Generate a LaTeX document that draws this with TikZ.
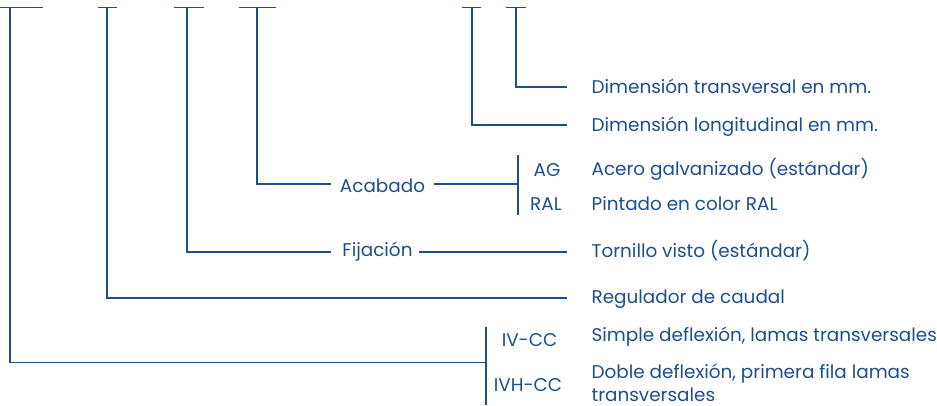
\documentclass[tikz,border=0pt]{standalone}
\usepackage{fontspec}
\setmainfont{Poppins}
\usetikzlibrary{positioning}
\definecolor{navy}{HTML}{1C4F8C}

\begin{document}
\begin{tikzpicture}[x=1pt,y=-1pt,line width=1.2pt,navy,
    font=\fontsize{18.4}{23}\selectfont,
    desc/.style={anchor=base west,inner sep=0pt},
    opt/.style={anchor=base,inner sep=0pt}]
  \useasboundingbox (0,0) rectangle (937,405);
  % code positions on top
  \foreach \name/\a/\b/\x in {t1/0/43/10,t2/98/117/107,t3/174/204/187,
      t4/239/276/257,t5/462/481/472,t6/506/526/516}{
    \draw (\a,7.5) -- (\b,7.5);
    \coordinate (\name) at (\x,7.5);
  }

  \node[desc] (dimt) at (591,93.3) {Dimensión transversal en mm.};
  \node[desc] (diml) at (591,131.7) {Dimensión longitudinal en mm.};
  \node[desc] (acero) at (591,175) {Acero galvanizado (estándar)};
  \node[desc] (pint) at (591,210.7) {Pintado en color RAL};
  \node[desc] (torn) at (591,257) {Tornillo visto (estándar)};
  \node[desc] (reg) at (591,303) {Regulador de caudal};
  \node[desc] (simp) at (591,341.7) {Simple deflexión, lamas transversales};
  % base of a two-line node is its last line
  \node[desc,align=left] (doble) at (591,401)
    {Doble deflexión, primera fila lamas\\transversales};

  \node[opt] (ag) at (547,176) {AG};
  \node[opt] (ral) at (546,210.5) {RAL};
  \node[opt] (ivcc) at (529.5,346) {IV-CC};
  \node[opt] (ivhcc) at (528,391.7) {IVH-CC};
  \node[opt] (acab) at (382.5,192.7) {Acabado};
  \node[opt] (fij) at (377.5,256.7) {Fijación};

  \coordinate (e1) at (486,362.7);
  \coordinate (e2) at (567,298);
  \coordinate (e3) at (331,252);
  \coordinate (e4) at (331,184);
  \coordinate (e5) at (567,125);
  \coordinate (e6) at (567,87);
  \coordinate (f1) at (419,252);
  \coordinate (f2) at (567,252);
  \coordinate (a1) at (434,184);
  \coordinate (a2) at (518,184);
  \coordinate (b1t) at (518,155);
  \coordinate (b1b) at (518,215);
  \coordinate (b2t) at (486,327);
  \coordinate (b2b) at (486,405);

  \draw (t1) |- (e1);
  \draw (t2) |- (e2);
  \draw (t3) |- (e3);
  \draw (t4) |- (e4);
  \draw (t5) |- (e5);
  \draw (t6) |- (e6);
  \draw (f1) -- (f2);
  \draw (a1) -- (a2);
  % brackets
  \draw (b1t) -- (b1b);
  \draw (b2t) -- (b2b);
\end{tikzpicture}
\end{document}
